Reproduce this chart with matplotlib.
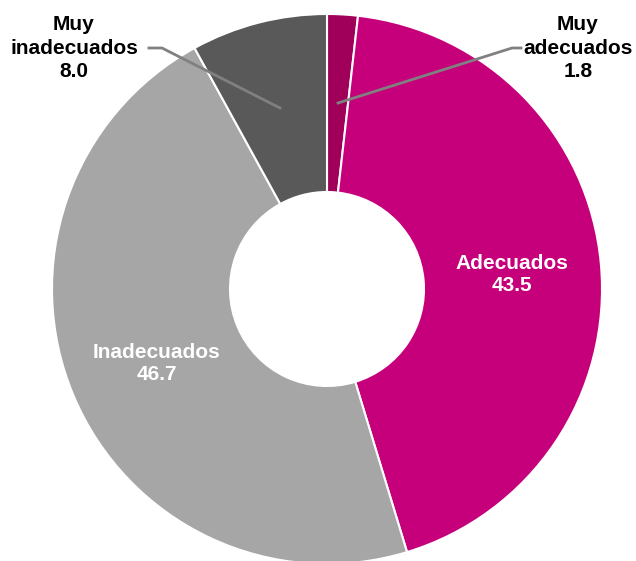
import matplotlib.pyplot as plt

labels = ["Muy\nadecuados", "Adecuados", "Inadecuados", "Muy\ninadecuados"]
values = [1.8, 43.5, 46.7, 8.0]
colors = ["#A0005A", "#C6007A", "#A6A6A6", "#595959"]

plt.rcParams['font.family'] = ['Liberation Sans', 'DejaVu Sans']

fig = plt.figure(figsize=(6.36, 5.61), dpi=100)
ax = fig.add_axes([0, 0, 1, 1])

cx, cy, r = 327, 272, 275
ax.pie(values, colors=colors, startangle=90, counterclock=False,
       radius=r, center=(cx, cy), frame=True,
       wedgeprops=dict(width=r - 97, edgecolor='white', linewidth=1.5))
ax.set_xlim(0, 636)
ax.set_ylim(0, 561)
ax.axis('off')

fs = 15
txt = dict(fontsize=fs, fontweight='bold', ha='center', va='center',
           multialignment='center', zorder=5)

# inside labels
ax.text(512, 561 - 274, labels[1] + "\n" + f"{values[1]:.1f}", color='white',
        linespacing=1.2, **txt)
ax.text(157, 561 - 364, labels[2] + "\n" + f"{values[2]:.1f}", color='white',
        linespacing=1.2, **txt)

# outside labels with leader lines
ax.plot([338, 512, 521], [561 - 103, 561 - 48, 561 - 48], color='#808080', lw=2, zorder=4)
ax.text(578, 561 - 48, labels[0] + "\n" + f"{values[0]:.1f}", color='black',
        linespacing=1.32, **txt)
ax.plot([149, 162, 280], [561 - 48, 561 - 48, 561 - 108], color='#808080', lw=2, zorder=4)
ax.text(74, 561 - 48, labels[3] + "\n" + f"{values[3]:.1f}", color='black',
        linespacing=1.32, **txt)

fig.savefig("out.png", dpi=100)
